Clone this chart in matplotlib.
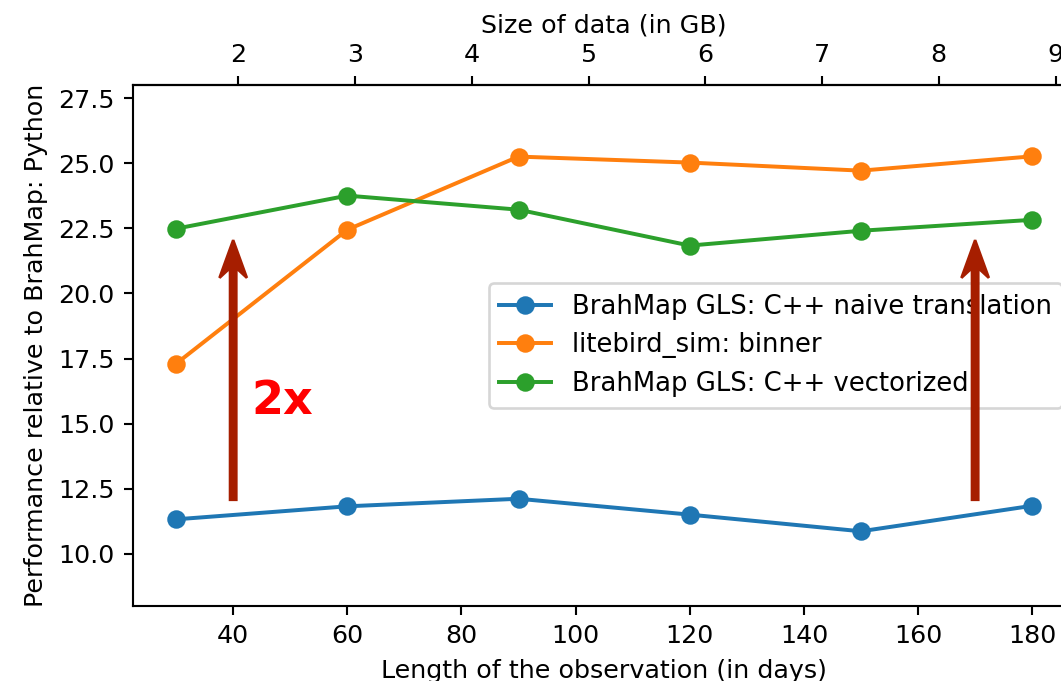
import matplotlib
matplotlib.use("Agg")
import matplotlib.pyplot as plt

# Data
days = [30, 60, 90, 120, 150, 180]
naive = [11.32, 11.82, 12.11, 11.50, 10.86, 11.84]
binner = [17.30, 22.45, 25.26, 25.03, 24.72, 25.27]
vectorized = [22.49, 23.76, 23.22, 21.84, 22.41, 22.83]
labels = ["BrahMap GLS: C++ naive translation",
          "litebird_sim: binner",
          "BrahMap GLS: C++ vectorized"]
gb_per_day = 8.8 / 180.0

arrow_x = [40, 170]
arrow_y0 = 12.07
arrow_y1 = 22.05

plt.rcParams["font.size"] = 9.6

DPI = 190
fig = plt.figure(figsize=(1061 / DPI, 681 / DPI), dpi=DPI)
ax = fig.add_axes([133.3 / 1061, 1 - 605.7 / 681, (1075 - 133.3) / 1061, (605.7 - 85.3) / 681])

ax.plot(days, naive, marker="o", label=labels[0], color="C0")
ax.plot(days, binner, marker="o", label=labels[1], color="C1")
ax.plot(days, vectorized, marker="o", label=labels[2], color="C2")

ax.set_xlim(22.5, 187.5)
ax.set_ylim(8, 28)
ax.set_xticks([40, 60, 80, 100, 120, 140, 160, 180])
ax.set_yticks([10.0, 12.5, 15.0, 17.5, 20.0, 22.5, 25.0, 27.5])
ax.set_xlabel("Length of the observation (in days)")
ax.set_ylabel("Performance relative to BrahMap: Python")

sec = ax.secondary_xaxis("top", functions=(lambda d: d * gb_per_day, lambda g: g / gb_per_day))
sec.set_xlabel("Size of data (in GB)")

leg = ax.legend(loc="center right", fontsize=9.8)

for xa in arrow_x:
    ax.arrow(xa, arrow_y0, 0, arrow_y1 - arrow_y0, width=1.1, head_width=4.8,
             head_length=1.45, overhang=0.26, length_includes_head=True,
             color="#a61e00", zorder=6)

ax.text(43.2, 15.85, "2x", color="#ff0000", fontsize=17.5, fontweight="bold",
        ha="left", va="center")

fig.savefig("out.png", dpi=DPI)
